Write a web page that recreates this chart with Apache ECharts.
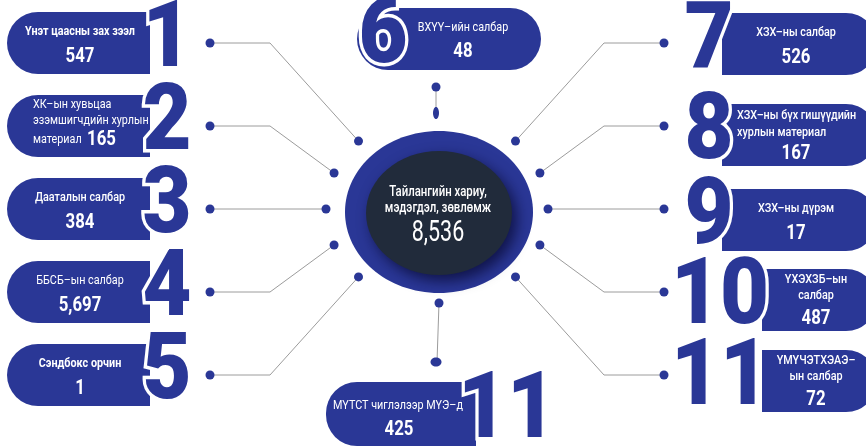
<!DOCTYPE html>
<html><head><meta charset="utf-8">
<script src="https://cdn.jsdelivr.net/npm/echarts@6/dist/echarts.min.js"></script>
<style>html,body{margin:0;padding:0;background:#fff}#c{width:866px;height:446px}</style>
</head><body><div id="c"></div>
<script>
// ---- data ----
const leftNumbers = ['1', '2', '3', '4', '5'];
const leftTitles = ['Үнэт цаасны зах зээл', 'ХК–ын хувьцаа\nэзэмшигчдийн хурлын\nматериал', 'Дааталын салбар', 'ББСБ–ын салбар', 'Сэндбокс орчин'];
const leftValues = ['547', '165', '384', '5,697', '1'];
const rightNumbers = ['7', '8', '9', '10', '11'];
const rightTitles = ['ХЗХ–ны салбар', 'ХЗХ–ны бүх гишүүдийн\nхурлын материал', 'ХЗХ–ны дүрэм', 'ҮХЭХЗБ–ын\nсалбар', 'ҮМҮЧЭТХЭАЭ–\nын салбар'];
const rightValues = ['526', '167', '17', '487', '72'];
const topNumber = '6', topTitle = 'ВХҮҮ–ийн салбар', topValue = '48';
const bottomNumber = '11', bottomTitle = 'МҮТСТ чиглэлээр МҮЭ–д', bottomValue = '425';
const centerTitle = 'Тайлангийн хариу,\nмэдэгдэл, зөвлөмж', centerValue = '8,536';

// ---- layout / style ----
const BLUE = '#2a3796', DARK = '#212b3b', LINE = '#9c9c9c';
const FONT = 'Roboto, "Liberation Sans", sans-serif';
const SX = 0.8;
const leftRowY = [43, 126, 209, 292, 375];
const rightRowY = [44, 135, 220, 300, 381];
const dotRowY = [43, 126, 209, 292, 375];
const leftWeights = ['bold', 'normal', 500, 'normal', 'bold'];
const rightWeights = [500, 500, 500, 500, 500];
const ring = { cx: 437, cy: 209, rx: 111, ry: 96 };
const angles = [45, 22, 0, -22, -45];

const G = [];
function txt(x, y, s, size, weight, align, rich, sx) {
  const st = { text: s, x: 0, y: 0, fill: '#fff', fontSize: size, fontWeight: weight, fontFamily: FONT, align: align || 'center', verticalAlign: 'middle' };
  if (rich) st.rich = rich;
  return { type: 'text', x: x, y: y, scaleX: sx || SX, style: st, z: 20 };
}
function bigNum(x, y, s) {
  G.push({ type: 'text', x: x, y: y, scaleX: 0.92, z: 10, style: { text: s, x: 0, y: 0, fill: '#fff', stroke: '#fff', lineWidth: 7, fontSize: 92, fontWeight: 900, fontFamily: FONT, align: 'center', verticalAlign: 'middle' } });
  G.push({ type: 'text', x: x, y: y, scaleX: 0.92, z: 11, style: { text: s, x: 0, y: 0, fill: BLUE, fontSize: 92, fontWeight: 900, fontFamily: FONT, align: 'center', verticalAlign: 'middle' } });
}
function dot(x, y, r) { G.push({ type: 'circle', z: 5, shape: { cx: x, cy: y, r: r || 4.5 }, style: { fill: BLUE } }); }
function line(pts) { G.push({ type: 'polyline', z: 4, shape: { points: pts }, style: { stroke: LINE, lineWidth: 1, fill: null } }); }
function titleBlock(cx, cy, title, value, weight, leftX) {
  const lines = title.split('\n');
  if (lines.length === 1) {
    G.push(txt(cx, cy - 11, title, 13.5, weight));
    G.push(txt(cx, cy + 14, value, 21, 'bold'));
  } else if (lines.length === 2) {
    if (leftX) {
      G.push(txt(leftX, cy - 19, lines[0], 13.5, weight, 'left'));
      G.push(txt(leftX, cy - 2, lines[1], 13.5, weight, 'left'));
    } else {
      G.push(txt(cx, cy - 20, lines[0], 13.5, weight));
      G.push(txt(cx, cy - 4, lines[1], 13.5, weight));
    }
    G.push(txt(cx, cy + 19, value, 21, 'bold'));
  } else {
    G.push(txt(leftX, cy - 21, lines[0], 13.5, weight, 'left'));
    G.push(txt(leftX, cy - 5, lines[1], 13.5, weight, 'left'));
    G.push(txt(leftX, cy + 14, lines[2] + '  {v|' + value + '}', 13.5, weight, 'left',
      { v: { fontSize: 21, fontWeight: 'bold', fill: '#fff', fontFamily: FONT } }));
  }
}

// center ellipse
G.push({ type: 'ellipse', z: 1, shape: { cx: 439, cy: 212, rx: 94, ry: 81 }, style: { fill: BLUE } });
G.push({ type: 'ellipse', z: 2, shape: { cx: 439, cy: 213, rx: 73, ry: 62 }, style: { fill: DARK, shadowColor: 'rgba(8,10,50,0.75)', shadowBlur: 14, shadowOffsetX: 5, shadowOffsetY: 6 } });
const ct = centerTitle.split('\n');
G.push(txt(438, 192, ct[0], 15, 500, 'center', null, 0.76));
G.push(txt(438, 208, ct[1], 15, 500, 'center', null, 0.76));
G.push(txt(438, 234, centerValue, 29, 'normal', 'center', null, 0.74));

// left column
leftNumbers.forEach(function (n, i) {
  const c = leftRowY[i];
  G.push({ type: 'rect', z: 3, shape: { x: 7, y: c - 31, width: 143, height: 62, r: [31, 0, 0, 31] }, style: { fill: BLUE } });
  bigNum(167, c, n);
  titleBlock(80, c, leftTitles[i], leftValues[i], leftWeights[i], 33);
  const ia = angles[i] * Math.PI / 180;
  const ix = ring.cx - ring.rx * Math.cos(ia), iy = ring.cy - ring.ry * Math.sin(ia);
  line([[210, dotRowY[i]], [270, dotRowY[i]], [ix, iy]]);
  dot(210, dotRowY[i]); dot(ix, iy);
});

// right column
rightNumbers.forEach(function (n, i) {
  const c = rightRowY[i];
  const L = n.length === 1 ? 722 : 762;
  G.push({ type: 'rect', z: 3, shape: { x: L, y: c - 31, width: 877 - L, height: 62, r: [0, 31, 31, 0] }, style: { fill: BLUE } });
  bigNum(n.length === 1 ? 709 : 720, c, n);
  titleBlock((L + 866) / 2 + 2, c, rightTitles[i], rightValues[i], rightWeights[i], i === 1 ? 737 : null);
  const ia = angles[i] * Math.PI / 180;
  const ix = ring.cx + ring.rx * Math.cos(ia), iy = ring.cy - ring.ry * Math.sin(ia);
  line([[664, dotRowY[i]], [604, dotRowY[i]], [ix, iy]]);
  dot(664, dotRowY[i]); dot(ix, iy);
});

// top item
G.push({ type: 'rect', z: 3, shape: { x: 357, y: 8, width: 184, height: 62, r: 31 }, style: { fill: BLUE } });
bigNum(383, 39, topNumber);
G.push(txt(463, 28, topTitle, 13.5, 'normal'));
G.push(txt(463, 52, topValue, 21, 'bold'));
line([[436, 87], [436, 112]]);
dot(436, 87);
G.push({ type: 'ellipse', z: 5, shape: { cx: 436, cy: 113, rx: 3, ry: 6 }, style: { fill: BLUE } });

// bottom item
G.push({ type: 'rect', z: 3, shape: { x: 326, y: 382, width: 150, height: 64, r: [31, 0, 0, 31] }, style: { fill: BLUE } });
bigNum(507, 414, bottomNumber);
G.push(txt(398, 406, bottomTitle, 13.5, 'normal'));
G.push(txt(399, 430, bottomValue, 21, 'bold'));
line([[439, 303], [437, 362]]);
dot(439, 303);
G.push({ type: 'ellipse', z: 5, shape: { cx: 436, cy: 362, rx: 5.5, ry: 4.5 }, style: { fill: BLUE } });

const chart = echarts.init(document.getElementById('c'), null, { renderer: 'canvas' });
chart.setOption({ backgroundColor: '#fff', animation: false, graphic: G });
</script></body></html>
